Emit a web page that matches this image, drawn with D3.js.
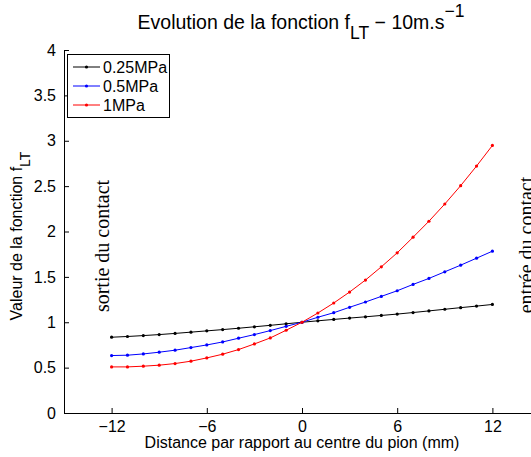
<!DOCTYPE html>
<html><head><meta charset="utf-8">
<script src="https://cdn.jsdelivr.net/npm/d3@7"></script>
<style>body{margin:0;background:#fff;overflow:hidden}svg{display:block}text{font-family:"Liberation Sans",Arial,sans-serif}</style>
</head><body><svg id="c" width="531" height="457"></svg>
<script>
const xValues = [-12,-11,-10,-9,-8,-7,-6,-5,-4,-3,-2,-1,0,1,2,3,4,5,6,7,8,9,10,11,12];
const seriesNames = ["0.25MPa","0.5MPa","1MPa"];
const seriesColors = ["#000000","#0000ff","#ff0000"];
const s025 = [0.835,0.843,0.853,0.864,0.877,0.891,0.905,0.919,0.934,0.950,0.966,0.983,1.000,1.016,1.031,1.046,1.060,1.075,1.090,1.107,1.125,1.143,1.161,1.178,1.196];
const s05  = [0.633,0.637,0.651,0.670,0.692,0.721,0.750,0.783,0.824,0.864,0.908,0.955,1.000,1.055,1.105,1.165,1.223,1.285,1.347,1.417,1.483,1.556,1.629,1.706,1.783];
const s1   = [0.508,0.508,0.516,0.527,0.545,0.571,0.607,0.648,0.699,0.761,0.827,0.912,1.000,1.102,1.212,1.333,1.465,1.611,1.765,1.937,2.113,2.303,2.505,2.721,2.948];
const xTicks = [-12,-6,0,6,12];
const yTicks = [0,0.5,1,1.5,2,2.5,3,3.5,4];
const yTickLabels = ["0","0.5","1","1.5","2","2.5","3","3.5","4"];

const svg = d3.select("#c");
const x = d3.scaleLinear().domain([-15,15]).range([64,540]);
const y = d3.scaleLinear().domain([0,4]).range([413,50]);

// axes
const xAxis = d3.axisBottom(x).tickValues(xTicks).tickSizeInner(-5).tickSizeOuter(0)
  .tickFormat(d => d < 0 ? "\u2212" + Math.abs(d) : String(d)).tickPadding(8);
const gx = svg.append("g").attr("transform",`translate(0,${y(0)})`).call(xAxis);
const yAxis = d3.axisLeft(y).tickValues(yTicks).tickSizeInner(-5).tickSizeOuter(0)
  .tickFormat((d,i) => yTickLabels[i]).tickPadding(8);
const gy = svg.append("g").attr("transform",`translate(${x(-15)},0)`).call(yAxis);
[gx,gy].forEach(g => {
  g.select(".domain").attr("stroke","#000").attr("stroke-width",1);
  g.selectAll(".tick line").attr("stroke","#000");
  g.selectAll(".tick text").attr("fill","#000").style("font-size","16px").style("font-family","'Liberation Sans',Arial,sans-serif");
});

// series
const series = [s025,s05,s1];
const line = d3.line().x((d,i)=>x(xValues[i])).y(d=>y(d));
series.forEach((s,k)=>{
  svg.append("path").datum(s).attr("d",line).attr("fill","none").attr("stroke",seriesColors[k]).attr("stroke-width",1);
  svg.append("g").selectAll("circle").data(s).join("circle")
    .attr("cx",(d,i)=>x(xValues[i])).attr("cy",d=>y(d)).attr("r",1.6).attr("fill",seriesColors[k]);
});

// annotations
svg.append("text").attr("transform",`translate(109,246) rotate(-90)`).attr("text-anchor","middle")
  .style("font-family","'Liberation Serif','Times New Roman',serif").style("font-size","20px").text("sortie du contact");
svg.append("text").attr("transform",`translate(533,245) rotate(-90)`).attr("text-anchor","middle")
  .style("font-family","'Liberation Serif','Times New Roman',serif").style("font-size","20px").text("entrée du contact");

// legend
const lg = svg.append("g");
lg.append("rect").attr("x",67.5).attr("y",54.5).attr("width",102).attr("height",63).attr("fill","#fff").attr("stroke","#000").attr("stroke-width",1);
seriesNames.forEach((n,k)=>{
  const yy = 67 + k*19;
  lg.append("line").attr("x1",73).attr("x2",100).attr("y1",yy).attr("y2",yy).attr("stroke",seriesColors[k]).attr("stroke-width",1);
  lg.append("circle").attr("cx",86.5).attr("cy",yy).attr("r",1.6).attr("fill",seriesColors[k]);
  lg.append("text").attr("x",103).attr("y",yy+6).style("font-size","16px").text(n);
});

// title
const t = svg.append("text").attr("x",301).attr("y",29).attr("text-anchor","middle").style("font-size","19.5px");
t.append("tspan").text("Evolution de la fonction f");
t.append("tspan").attr("dy",10).style("font-size","17.5px").text("LT");
t.append("tspan").attr("dy",-10).text(" \u2212 10m.s");
t.append("tspan").attr("dy",-12).style("font-size","17.5px").text("\u22121");

// axis labels
svg.append("text").attr("x",302).attr("y",448).attr("text-anchor","middle").style("font-size","16px")
  .text("Distance par rapport au centre du pion (mm)");
const yl = svg.append("text").attr("transform","translate(22,236) rotate(-90)").attr("text-anchor","middle").style("font-size","16px");
yl.append("tspan").text("Valeur de la fonction f");
yl.append("tspan").attr("dy",8).style("font-size","14px").text("LT");
</script></body></html>
